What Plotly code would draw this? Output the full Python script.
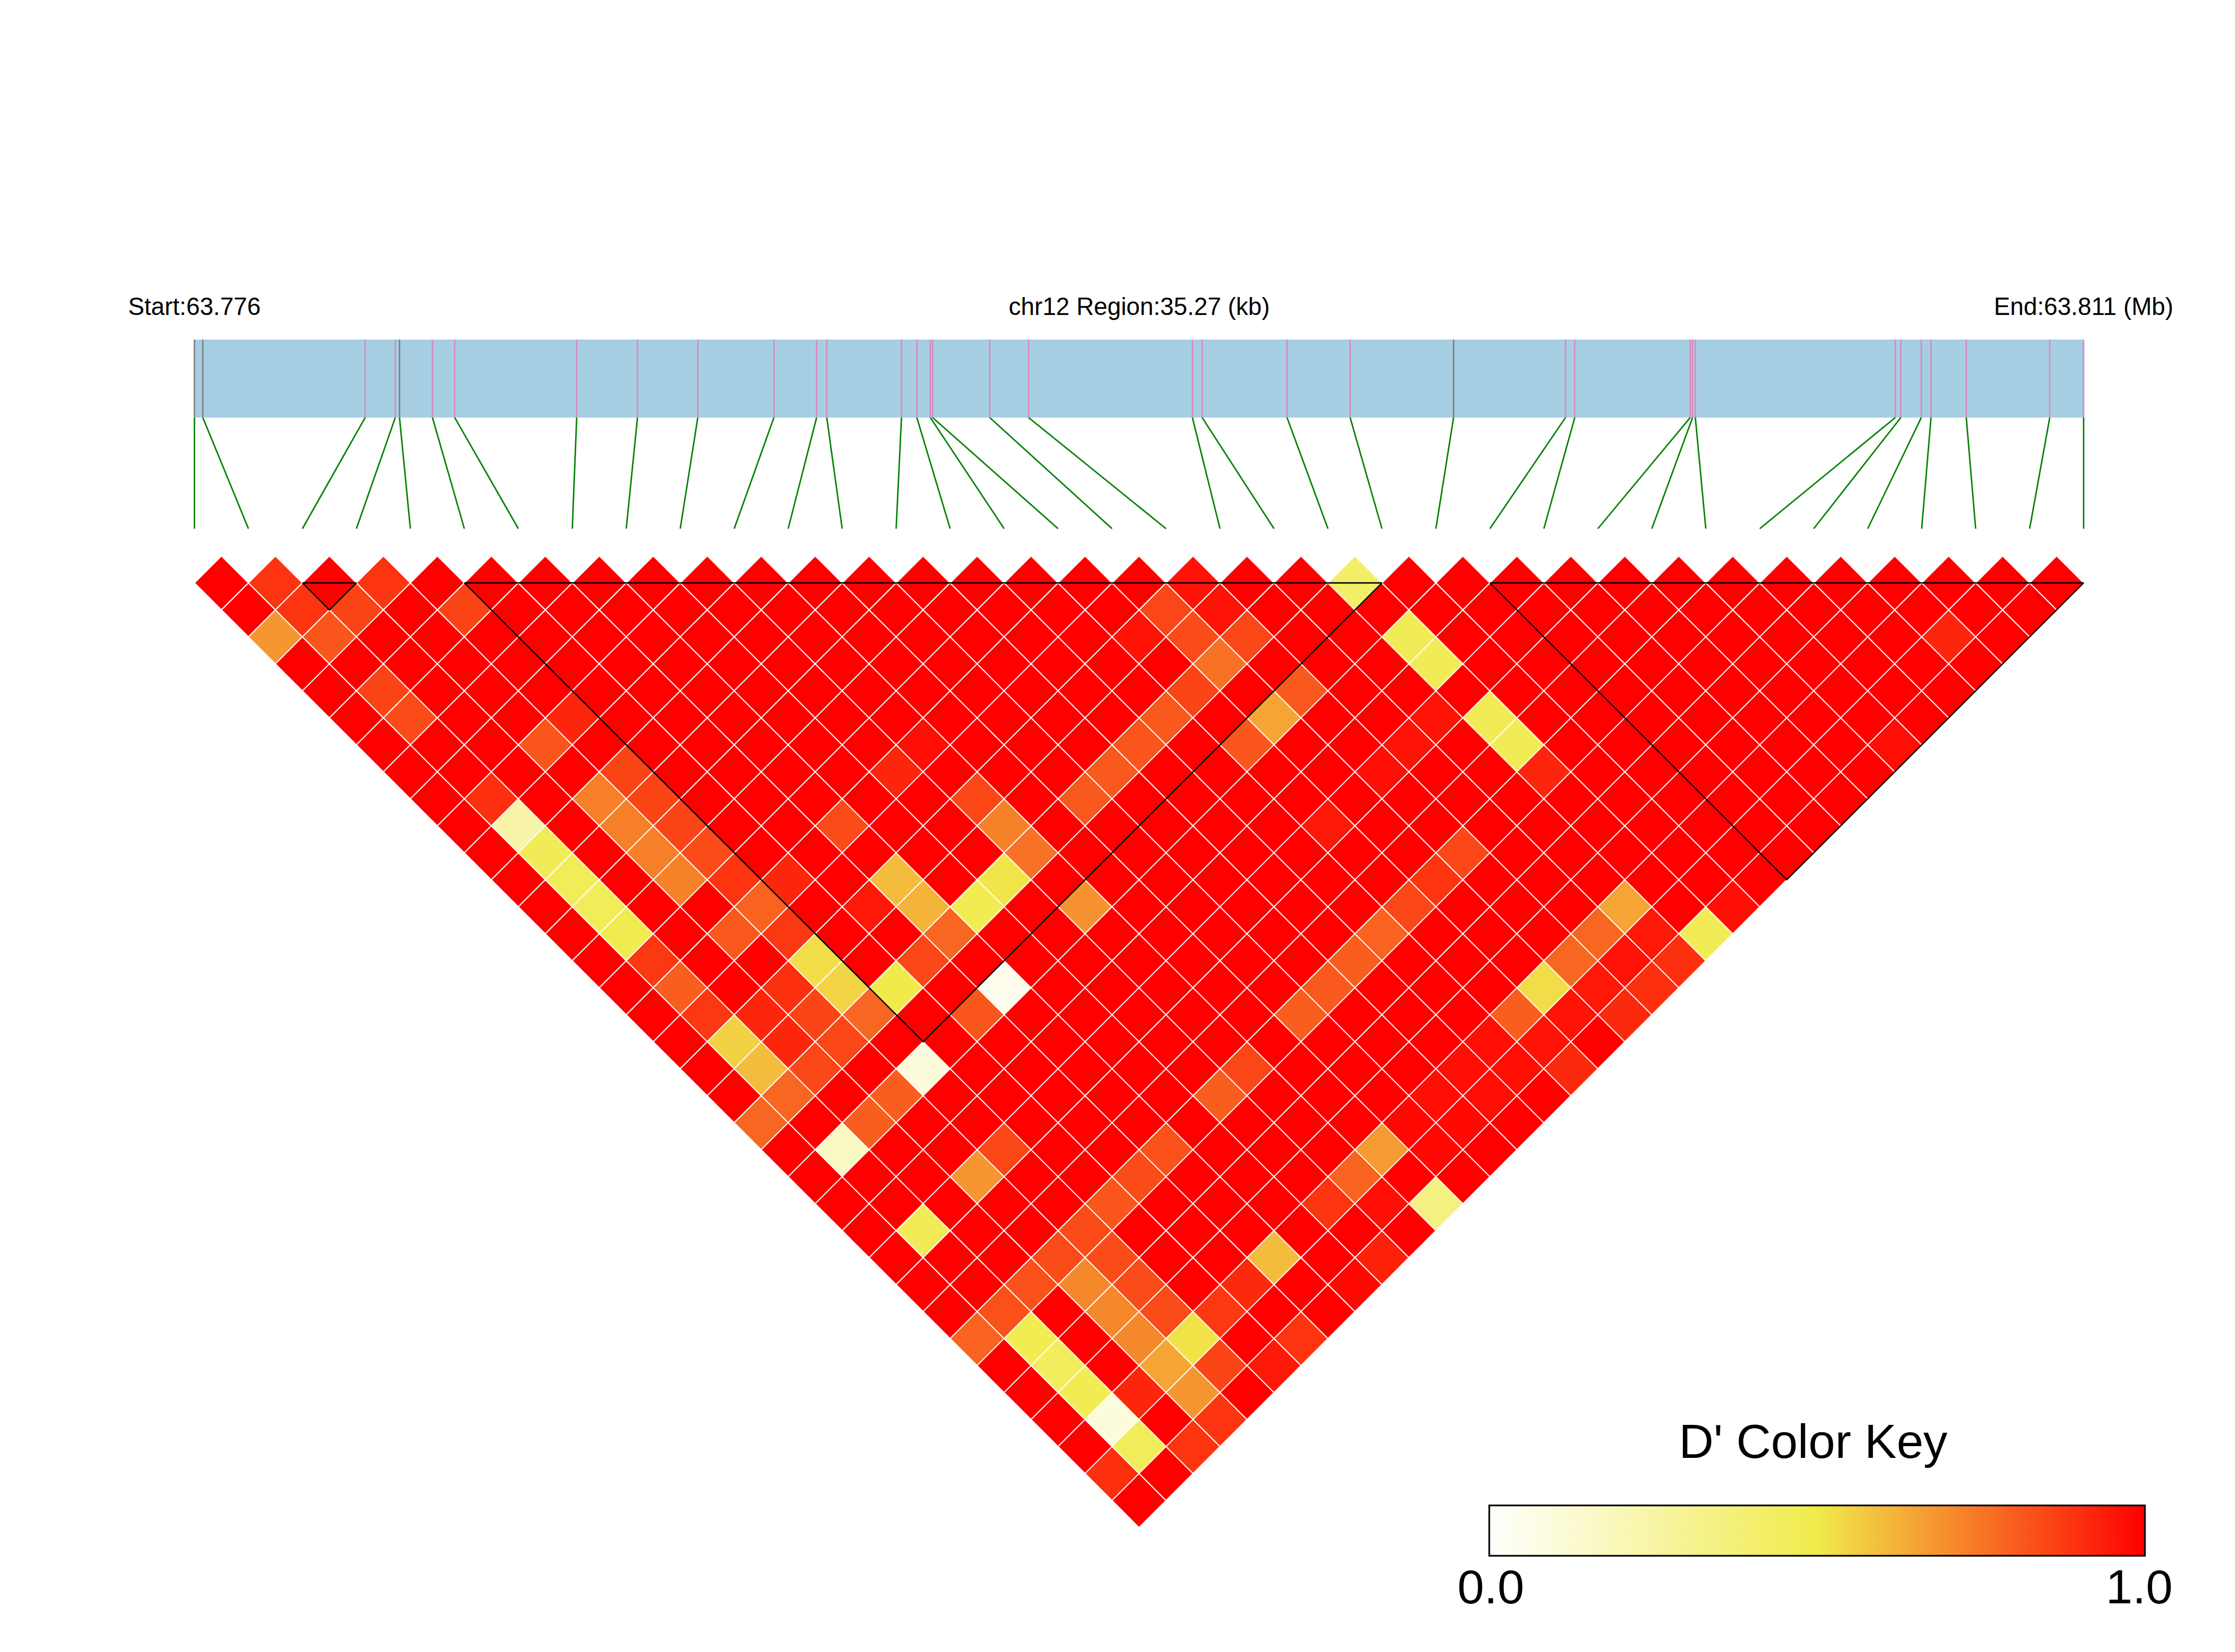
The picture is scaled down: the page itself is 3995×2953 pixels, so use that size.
import plotly.graph_objects as go

W, H = 3995, 2953
X0, STEP, Y0 = 347.6, 96.48, 1042.0
HALF = STEP / 2

# SNP positions along the region, kb from the start
snp_kb = [0.00, 0.156, 3.187, 3.750, 3.828, 4.443, 4.859, 7.136, 8.271, 9.397, 10.818, 11.615,
          11.805, 13.200, 13.487, 13.738, 13.781, 14.847, 15.573, 18.631, 18.813, 20.398,
          21.576, 23.507, 25.597, 25.770, 27.926, 27.970, 28.021, 31.754, 31.858, 32.240,
          32.421, 33.079, 34.638, 35.27]
region_kb = 35.27
gray_snps = [0, 1, 4, 23]

# D' for SNP pairs below 1.0, row by first SNP: {second SNP: D'}; every other pair is 1.0
dprime_below_one = {
    0: {3: .68, 21: .78, 29: .79, 34: .90},
    1: {2: .89, 3: .89, 4: .82, 6: .855, 7: .84, 10: .90, 11: .24, 12: .47, 13: .46, 14: .46,
        15: .49, 16: .88, 17: .80, 18: .88, 19: .555, 20: .60, 21: .78, 23: .17, 26: .47,
        29: .83, 30: .48, 31: .45, 32: .48, 33: .10, 34: .46},
    2: {4: .855, 19: .92, 20: .92, 21: .85, 23: .80, 29: .83, 33: .92, 35: .89},
    3: {4: .89, 10: .82, 12: .73, 13: .73, 14: .73, 15: .725, 17: .81, 19: .90, 20: .855,
        21: .85, 23: .80, 26: .68, 29: .84, 30: .71, 31: .71, 32: .71, 33: .65, 34: .68, 35: .89},
    4: {6: .855, 10: .92, 12: .855, 13: .855, 14: .855, 15: .84, 16: .89, 17: .79, 18: .88,
        19: .53, 20: .55, 21: .78, 23: .10, 26: .85, 29: .84, 30: .84, 31: .84, 32: .84,
        33: .52, 34: .855},
    5: {17: .92, 21: .50, 29: .82, 33: .88, 35: .95},
    6: {19: .95, 21: .85, 23: .82, 29: .84, 33: .91, 35: .89},
    7: {17: .84, 19: .60, 20: .62, 21: .78, 23: .05, 29: .83, 33: .60},
    8: {21: .48, 35: .98},
    9: {17: .92, 21: .51, 29: .80, 33: .89, 35: .93},
    10: {17: .97, 19: .85, 20: .725, 21: .76, 23: .69, 29: .85, 33: .79, 34: .97},
    11: {33: .67, 35: .35},
    12: {21: .81, 29: .80, 33: .98, 34: .98},
    13: {21: .81, 29: .81, 33: .97, 34: .98},
    14: {21: .82, 29: .80, 33: .97, 34: .97},
    15: {21: .81, 29: .79, 33: .97, 34: .97},
    16: {19: .96, 21: .855, 23: .82, 26: .95, 29: .85, 33: .80, 34: .96, 35: .91},
    17: {19: .85, 20: .84, 21: .76, 23: .65, 29: .89, 33: .53, 34: .96},
    18: {19: .96, 20: .96, 21: .85, 23: .81, 26: .97, 29: .85, 33: .78, 34: .95, 35: .91},
    19: {26: .96, 33: .78, 34: .96, 35: .90},
    20: {26: .96, 33: .65, 34: .95, 35: .90},
    21: {22: .42, 24: .47, 25: .47, 27: .47, 28: .47, 29: .92, 35: .47},
    22: {35: .97},
    28: {35: .97},
    31: {34: .92},
}

# LD blocks as (first SNP, last SNP)
blocks = [(2, 3), (5, 22), (24, 35)]

color_scale = [[0, "#FFFFFF"], [0.5, "#F0EB4B"], [1, "#FF0000"]]
key_ticks = [0, 1]
key_labels = ["0.0", "1.0"]

n = len(snp_kb)
cell_x, cell_y, cell_v = [], [], []
for i in range(n):
    for j in range(i + 1, n):
        cell_x.append((i + j) / 2)
        cell_y.append(j - i - 1)
        cell_v.append(dprime_below_one.get(i, {}).get(j, 1.0))

BAND_TOP, BAND_BOTTOM, LINK_BOTTOM = -9.017, -6.128, -2.011
to_idx = lambda kb: kb / region_kb * (n - 1)

fig = go.Figure()
fig.add_shape(type="rect", x0=0, x1=n - 1, y0=BAND_TOP, y1=BAND_BOTTOM,
              fillcolor="#A6CEE3", line_width=0, layer="below")

for name, colour, idxs in [("pink", "#DE87BE", [k for k in range(n) if k not in gray_snps]),
                           ("gray", "#808080", gray_snps)]:
    xs, ys = [], []
    for k in idxs:
        xs += [to_idx(snp_kb[k]), to_idx(snp_kb[k]), None]
        ys += [BAND_TOP, BAND_BOTTOM, None]
    fig.add_trace(go.Scatter(x=xs, y=ys, mode="lines", line=dict(color=colour, width=2.6),
                             hoverinfo="skip", showlegend=False))

lx, ly = [], []
for k in range(n):
    lx += [to_idx(snp_kb[k]), k, None]
    ly += [BAND_BOTTOM, LINK_BOTTOM, None]
fig.add_trace(go.Scatter(x=lx, y=ly, mode="lines", line=dict(color="#008000", width=2.6),
                         hoverinfo="skip", showlegend=False))

fig.add_trace(go.Scatter(
    x=cell_x, y=cell_y, mode="markers", showlegend=False,
    marker=dict(symbol="diamond", size=HALF * 2 / 1.3, color=cell_v, colorscale=color_scale,
                cmin=0, cmax=1, line=dict(color="white", width=1.8),
                colorbar=dict(orientation="h", lenmode="pixels", len=1172, thickness=90,
                              x=(2662 + 3834) / 2 / W, xanchor="center",
                              y=1 - 2691 / H, yanchor="top", xpad=0, ypad=0,
                              outlinecolor="black", outlinewidth=3, ticks="",
                              showticklabels=False)),
))

bx, by = [], []
for a, b in blocks:
    bx += [a, b, (a + b) / 2, a, None]
    by += [0, 0, b - a, 0, None]
fig.add_trace(go.Scatter(x=bx, y=by, mode="lines", line=dict(color="black", width=2.4),
                         hoverinfo="skip", showlegend=False))

text_font = dict(family="Liberation Sans", size=43.5, color="black")
TEXT_ROW = (548 - Y0) / HALF
for x, label in [(0, "Start:63.776"), ((n - 1) / 2, "chr12 Region:35.27 (kb)"), (n - 1, "End:63.811 (Mb)")]:
    fig.add_annotation(x=x, y=TEXT_ROW, text=label, showarrow=False, font=text_font,
                       xanchor="center", yanchor="middle")
key_font = dict(family="Liberation Sans", size=86, color="black")
fig.add_annotation(xref="paper", yref="paper", x=3241 / W, y=1 - 2576 / H, text="D' Color Key",
                   showarrow=False, xanchor="center", yanchor="middle", font=key_font)
for frac, label in zip(key_ticks, key_labels):
    fig.add_annotation(xref="paper", yref="paper", x=(2665 + frac * (3824 - 2665)) / W, y=1 - 2836 / H,
                       text=label, showarrow=False, xanchor="center", yanchor="middle", font=key_font)

fig.update_layout(
    width=W, height=H, margin=dict(l=0, r=0, t=0, b=0),
    paper_bgcolor="white", plot_bgcolor="white", showlegend=False,
    xaxis=dict(range=[-X0 / STEP, (W - X0) / STEP], visible=False, domain=[0, 1]),
    yaxis=dict(range=[(H - Y0) / HALF, -Y0 / HALF], visible=False, domain=[0, 1]),
)
fig.write_html("out.html", config={"displayModeBar": False},
               post_script="document.body.style.margin='0';")
